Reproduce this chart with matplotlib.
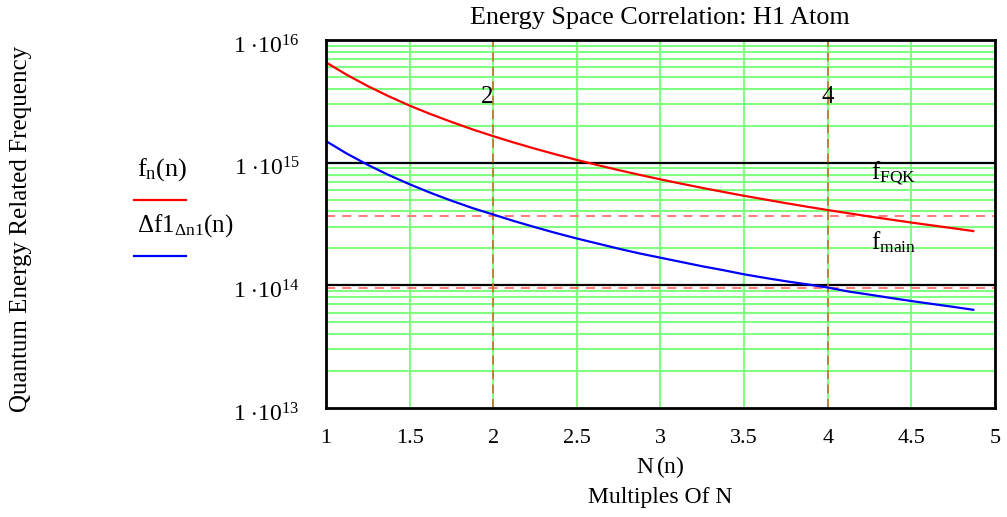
import numpy as np
import matplotlib
matplotlib.use("Agg")
import matplotlib.pyplot as plt
import matplotlib.transforms as mtransforms
from matplotlib.ticker import FixedLocator, NullFormatter

plt.rcParams['font.family'] = ['Liberation Serif', 'DejaVu Serif']
plt.rcParams['mathtext.fontset'] = 'custom'
plt.rcParams['mathtext.rm'] = 'Liberation Serif'
plt.rcParams['mathtext.it'] = 'Liberation Serif'
plt.rcParams['mathtext.bf'] = 'Liberation Serif:bold'

# valores
n_vals = [1.0, 1.125, 1.25, 1.375, 1.5, 1.625, 1.75, 1.875, 2.0, 2.125, 2.25, 2.375,
          2.5, 2.625, 2.75, 2.875, 3.0, 3.125, 3.25, 3.375, 3.5, 3.625, 3.75, 3.875,
          4.0, 4.125, 4.25, 4.375, 4.5, 4.625, 4.75, 4.87]
f_n = [6.58e15, 5.20e15, 4.21e15, 3.48e15, 2.92e15, 2.49e15, 2.15e15, 1.87e15,
       1.645e15, 1.457e15, 1.30e15, 1.167e15, 1.053e15, 9.55e14, 8.70e14, 7.96e14,
       7.31e14, 6.74e14, 6.23e14, 5.78e14, 5.37e14, 5.01e14, 4.68e14, 4.38e14,
       4.11e14, 3.87e14, 3.64e14, 3.44e14, 3.25e14, 3.08e14, 2.92e14, 2.77e14]
delta_f = [1.5e15, 1.185e15, 9.6e14, 7.93e14, 6.67e14, 5.68e14, 4.90e14, 4.27e14,
           3.78e14, 3.34e14, 2.98e14, 2.67e14, 2.41e14, 2.19e14, 1.99e14, 1.82e14,
           1.68e14, 1.55e14, 1.43e14, 1.33e14, 1.23e14, 1.15e14, 1.08e14, 1.02e14,
           9.6e13, 8.9e13, 8.4e13, 7.9e13, 7.45e13, 7.05e13, 6.68e13, 6.32e13]

black_levels = [1e15, 1e14]          # lineas negras horizontales
f_fqk = 3.66e14                       # lineas rojas discontinuas
f_main = 9.5e13
marker_x = [2, 4]                    # verticales discontinuas
x_ticks = [1, 1.5, 2, 2.5, 3, 3.5, 4, 4.5, 5]
y_ticks = [1e13, 1e14, 1e15, 1e16]

fig = plt.figure(figsize=(10.07, 5.17), dpi=100)
ax = fig.add_axes([0.3237, 0.2108, 0.6644, 0.7118])

ax.set_yscale('log')
ax.set_xlim(1, 5)
ax.set_ylim(1e13, 1e16)

# rejilla verde
for x in x_ticks[1:-1]:
    ax.axvline(x, color='#80ff80', lw=1.5, zorder=1)
for dec in [1e13, 1e14, 1e15]:
    for k in range(2, 10):
        ax.axhline(k * dec, color='#80ff80', lw=1.5, zorder=1)

for y in black_levels:
    ax.axhline(y, color='black', lw=1.6, zorder=2)
for y in [f_fqk, f_main]:
    ax.axhline(y, color='#ff7070', lw=1.3, ls=(0, (5, 4)), zorder=3)
for x in marker_x:
    ax.axvline(x, color='#c07830', lw=1.3, ls=(0, (5, 3)), zorder=3)

ax.plot(n_vals, f_n, color='red', lw=1.6, zorder=4)
ax.plot(n_vals, delta_f, color='blue', lw=1.6, zorder=4)

ax.xaxis.set_major_locator(FixedLocator(x_ticks))
ax.set_xticklabels(['1', '1.5', '2', '2.5', '3', '3.5', '4', '4.5', '5'])
ax.yaxis.set_major_locator(FixedLocator(y_ticks))
ax.set_yticklabels([r'$\mathrm{1\ {\cdot}10^{%d}}$' % e for e in [13, 14, 15, 16]])
ax.yaxis.set_minor_locator(FixedLocator([]))
ax.yaxis.set_minor_formatter(NullFormatter())
ax.tick_params(axis='both', length=0, labelsize=16)
ax.tick_params(axis='y', labelsize=17)
ax.tick_params(axis='x', pad=15)
ax.tick_params(axis='y', pad=19)

# bajar un poco las etiquetas del eje y
shift = mtransforms.ScaledTranslation(0, -4 / 100, fig.dpi_scale_trans)
for lbl in ax.get_yticklabels():
    lbl.set_transform(lbl.get_transform() + shift)

for s in ax.spines.values():
    s.set_linewidth(2)
    s.set_zorder(5)

ax.text(2, 3.4e15, '2', ha='right', va='center', fontsize=18)
ax.text(4, 3.4e15, '4', ha='center', va='center', fontsize=18)
ax.text(4.26, 8.3e14, r'$\mathrm{f_{FQK}}$', fontsize=18, va='center')
ax.text(4.26, 2.25e14, r'$\mathrm{f_{main}}$', fontsize=18, va='center')

fig.text(660 / 1007, 1 - 18 / 517, 'Energy Space Correlation: H1 Atom',
         ha='center', va='center', fontsize=18.8)
fig.text(660 / 1007, 1 - 467 / 517, r'$\mathrm{N\,(n)}$', ha='center', va='center', fontsize=17)
fig.text(660 / 1007, 1 - 497 / 517, 'Multiples Of N', ha='center', va='center', fontsize=17)
fig.text(21 / 1007, 1 - 229 / 517, 'Quantum Energy Related Frequency',
         ha='center', va='center', rotation=90, fontsize=18)

# leyenda a la izquierda
fig.text(137 / 1007, 1 - 170 / 517, r'$\mathrm{f_{n}(n)}$', ha='left', va='center', fontsize=19)
fig.add_artist(plt.Line2D([134 / 1007, 186 / 1007], [1 - 200 / 517, 1 - 200 / 517],
                          color='red', lw=1.6))
fig.text(137 / 1007, 1 - 226 / 517, r'$\mathrm{\Delta f1_{\Delta n1}(n)}$', ha='left', va='center',
         fontsize=18)
fig.add_artist(plt.Line2D([134 / 1007, 186 / 1007], [1 - 256 / 517, 1 - 256 / 517],
                          color='blue', lw=1.6))

fig.savefig('out.png', dpi=100)
